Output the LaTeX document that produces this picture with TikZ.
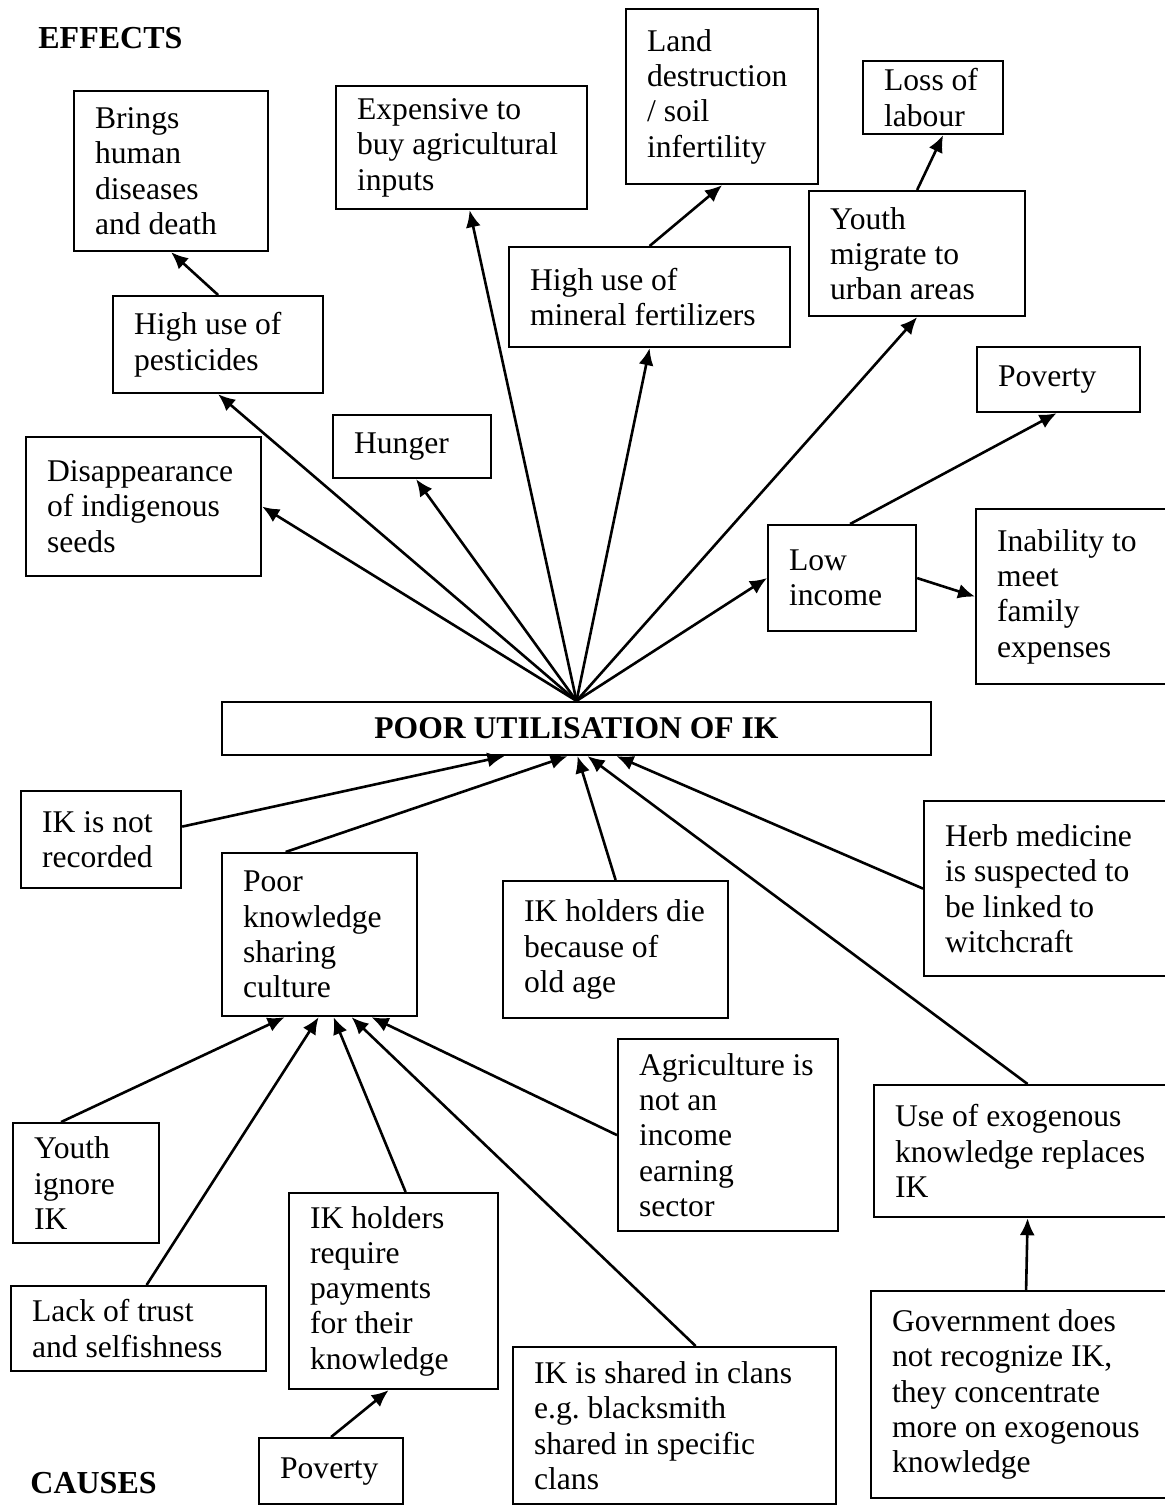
\documentclass[tikz,border=0pt]{standalone}
\usepackage{fontspec}
\setmainfont{Liberation Serif}
\usepackage{tikz}
\usetikzlibrary{arrows.meta, calc, positioning}

\begin{document}
\begin{tikzpicture}[x=0.5pt, y=-0.5pt,
	cell/.style={draw, line width=1.1pt, anchor=north west, inner xsep=0pt,
		inner ysep=0pt, align=left, font=\fontsize{15.8}{17.65}\selectfont,
		execute at begin node={\leftskip=10.5pt\spaceskip=0pt\xspaceskip=0pt\frenchspacing}},
	hub/.style={draw, line width=1.1pt, minimum width=354.5pt,
		minimum height=26.5pt, inner sep=0pt, font=\fontsize{15.8}{17.65}\selectfont\bfseries},
	head/.style={anchor=west, inner sep=0pt, font=\fontsize{16}{18}\selectfont\bfseries},
	arr/.style={-{Latex[length=8.5pt, width=7.5pt]}, line width=1.3pt}
	]
	\path[use as bounding box, clip] (0,0) rectangle (1165,1505);

	\node[head] (effects) at (38,38) {EFFECTS};
	\node[head] (causes) at (30,1483) {CAUSES};

	\node[hub] (poor) at (576.5,728.5) {POOR UTILISATION OF IK};

	\node[cell, text width=97pt, minimum height=80pt] (brings) at (73,90)
	{Brings\\human\\diseases\\and death};
	\node[cell, text width=125.5pt, minimum height=61.5pt] (expens) at (335,85)
	{Expensive to\\buy agricultural\\inputs};
	\node[cell, text width=96pt, minimum height=87.5pt] (land) at (625,8)
	{Land\\destruction\\/ soil\\infertility};
	\node[cell, text width=70pt, minimum height=36.5pt] (labour) at (862,60)
	{Loss of\\labour};
	\node[cell, text width=140.5pt, minimum height=50pt] (mineral) at (508,246)
	{High use of\\mineral fertilizers};
	\node[cell, text width=108pt, minimum height=62.5pt] (migrate) at (808,190)
	{Youth\\migrate to\\urban areas};
	\node[cell, text width=105pt, minimum height=48.5pt] (pest) at (112,295)
	{High use of\\pesticides};
	\node[cell, text width=81.5pt, minimum height=32.5pt] (povtop) at (976,346)
	{Poverty};
	\node[cell, text width=79pt, minimum height=31.5pt] (hunger) at (332,414)
	{Hunger};
	\node[cell, text width=117.5pt, minimum height=69.5pt] (seeds) at (25,436)
	{Disappearance\\of indigenous\\seeds};
	\node[cell, text width=74pt, minimum height=53pt] (lowinc) at (767,524)
	{Low\\income};
	\node[cell, text width=102.5pt, minimum height=87.5pt] (inab) at (975,508)
	{Inability to\\meet\\family\\expenses};

	\node[cell, text width=80pt, minimum height=48.5pt] (notrec) at (20,790)
	{IK is not\\recorded};
	\node[cell, text width=97.5pt, minimum height=81.5pt] (know) at (221,852)
	{Poor\\knowledge\\sharing\\culture};
	\node[cell, text width=112.5pt, minimum height=68.5pt] (die) at (502,880)
	{IK holders die\\because of\\old age};
	\node[cell, text width=128.5pt, minimum height=87.5pt] (herb) at (923,800)
	{Herb medicine\\is suspected to\\be linked to\\witchcraft};
	\node[cell, text width=110pt, minimum height=96pt] (agric) at (617,1038)
	{Agriculture is\\not an\\income\\earning\\sector};
	\node[cell, text width=153.5pt, minimum height=66pt] (exog) at (873,1084)
	{Use of exogenous\\knowledge replaces\\IK};
	\node[cell, text width=73pt, minimum height=60pt] (ignore) at (12,1122)
	{Youth\\ignore\\IK};
	\node[cell, text width=104.5pt, minimum height=98pt] (require) at (288,1192)
	{IK holders\\require\\payments\\for their\\knowledge};
	\node[cell, text width=127.5pt, minimum height=42.5pt] (trust) at (10,1285)
	{Lack of trust\\and selfishness};
	\node[cell, text width=161.5pt, minimum height=78.5pt] (clans) at (512,1346)
	{IK is shared in clans\\e.g. blacksmith\\shared in specific\\clans};
	\node[cell, text width=155pt, minimum height=103.5pt] (gov) at (870,1290)
	{Government does\\not recognize IK,\\they concentrate\\more on exogenous\\knowledge};
	\node[cell, text width=72pt, minimum height=33pt] (pov2) at (258,1437)
	{Poverty};

	\draw[arr] (poor.north) -- (seeds.east);
	\draw[arr] (poor.north) -- (pest.south);
	\draw[arr] (poor.north) -- ($(hunger.south)+(4,0)$);
	\draw[arr] (poor.north) -- ($(expens.south)+(8,0)$);
	\draw[arr] (poor.north) -- (mineral.south);
	\draw[arr] (poor.north) -- (migrate.south);
	\draw[arr] (poor.north) -- (lowinc.west);
	\draw[arr] (lowinc.east) -- (inab.west);
	\draw[arr] ($(lowinc.north)+(8,0)$) -- ($(povtop.south)+(-2,0)$);
	\draw[arr] (migrate.north) -- ($(labour.south)+(10,0)$);
	\draw[arr] (mineral.north) -- (land.south);
	\draw[arr] (pest.north) -- (brings.south);

	\draw[arr] ($(notrec.east)+(0,-13)$) -- ($(poor.south)+(-72,0)$);
	\draw[arr] ($(know.north)+(-34,0)$) -- ($(poor.south)+(-9,0)$);
	\draw[arr] (die.north) -- ($(poor.south)+(1,0)$);
	\draw[arr] (exog.north) -- ($(poor.south)+(11,0)$);
	\draw[arr] (herb.west) -- ($(poor.south)+(40,0)$);
	\draw[arr] ($(ignore.north)+(-25,0)$) -- ($(know.south)+(-35,0)$);
	\draw[arr] ($(trust.north)+(8,0)$) -- ($(know.south)+(-1,0)$);
	\draw[arr] ($(require.north)+(12,0)$) -- ($(know.south)+(14,0)$);
	\draw[arr] ($(clans.north)+(21,0)$) -- ($(know.south)+(32,0)$);
	\draw[arr] (agric.west) -- ($(know.south)+(52,0)$);
	\draw[arr] (pov2.north) -- ($(require.south)+(-5,0)$);
	\draw[arr] (gov.north) -- (exog.south);
\end{tikzpicture}
\end{document}
